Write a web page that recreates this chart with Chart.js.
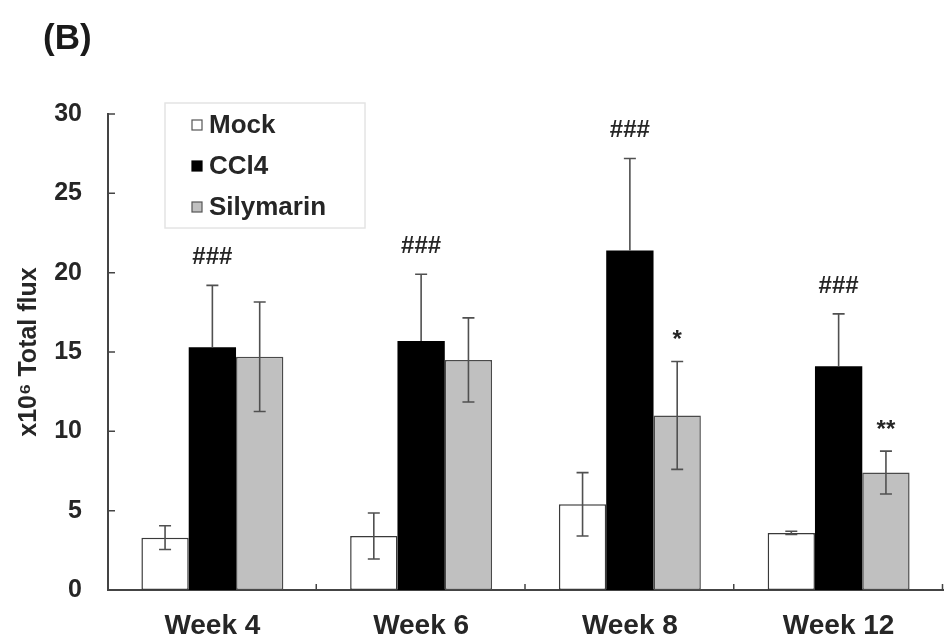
<!DOCTYPE html>
<html><head><meta charset="utf-8">
<script src="https://cdn.jsdelivr.net/npm/chart.js@4/dist/chart.umd.min.js"></script>
<style>html,body{margin:0;padding:0;background:#fff}#wrap{width:945px;height:641px}</style>
</head><body><div id="wrap"><canvas id="c" width="945" height="641"></canvas></div>
<script>
const categories = ['Week 4', 'Week 6', 'Week 8', 'Week 12'];
const seriesNames = ['Mock', 'CCl4', 'Silymarin'];
const mockValues = [3.3, 3.4, 5.4, 3.6];
const mockErrors = [0.75, 1.45, 2.0, 0.1];
const ccl4Values = [15.3, 15.7, 21.4, 14.1];
const ccl4Errors = [3.9, 4.2, 5.8, 3.3];
const silymarinValues = [14.7, 14.5, 11.0, 7.4];
const silymarinErrors = [3.45, 2.65, 3.4, 1.35];
const mockMarks = ['', '', '', ''];
const ccl4Marks = ['###', '###', '###', '###'];
const silymarinMarks = ['', '', '*', '**'];
const yTicks = [0, 5, 10, 15, 20, 25, 30];

const FONT = '"Liberation Sans", Arial, sans-serif';
const TEXT = '#262626';

const datasets = [
  {label: seriesNames[0], data: mockValues, errors: mockErrors, marks: mockMarks,
   backgroundColor: '#ffffff', borderColor: '#3a3a3a', borderWidth: 1.5, hideLowerErr: false},
  {label: seriesNames[1], data: ccl4Values, errors: ccl4Errors, marks: ccl4Marks,
   backgroundColor: '#000000', borderColor: '#000000', borderWidth: 0, hideLowerErr: true},
  {label: seriesNames[2], data: silymarinValues, errors: silymarinErrors, marks: silymarinMarks,
   backgroundColor: '#c0c0c0', borderColor: '#4a4a4a', borderWidth: 1.5, hideLowerErr: false}
].map(d => Object.assign(d, {categoryPercentage: 0.68, barPercentage: 1.0, borderSkipped: false}));

const extras = {
  id: 'extras',
  afterDatasetsDraw(chart) {
    const ctx = chart.ctx;
    const ys = chart.scales.y, xs = chart.scales.x;
    const area = chart.chartArea;
    ctx.save();
    // error bars and marks
    chart.data.datasets.forEach((ds, di) => {
      const meta = chart.getDatasetMeta(di);
      meta.data.forEach((bar, i) => {
        const v = ds.data[i], e = ds.errors[i];
        const x = bar.x;
        const yt = ys.getPixelForValue(v + e);
        const yv = ys.getPixelForValue(v);
        const yb = ys.getPixelForValue(v - e);
        ctx.strokeStyle = '#505050';
        ctx.lineWidth = 1.6;
        ctx.beginPath();
        ctx.moveTo(x, yt); ctx.lineTo(x, ds.hideLowerErr ? yv : yb);
        ctx.moveTo(x - 6, yt); ctx.lineTo(x + 6, yt);
        if (!ds.hideLowerErr) { ctx.moveTo(x - 6, yb); ctx.lineTo(x + 6, yb); }
        ctx.stroke();
        const m = ds.marks[i];
        if (m) {
          ctx.fillStyle = TEXT;
          ctx.font = 'bold 24px ' + FONT;
          ctx.textAlign = 'center';
          ctx.textBaseline = 'middle';
          const off = m.indexOf('*') >= 0 ? 21 : 28;
          ctx.fillText(m, x, yt - off);
        }
      });
    });
    // inward ticks on y axis
    ctx.strokeStyle = '#444';
    ctx.lineWidth = 1.5;
    ctx.beginPath();
    yTicks.forEach(t => {
      const y = ys.getPixelForValue(t);
      ctx.moveTo(area.left, y); ctx.lineTo(area.left + 7, y);
    });
    // inward ticks on x axis at category boundaries
    const n = categories.length;
    for (let i = 1; i <= n; i++) {
      const x = i < n ? (xs.getPixelForValue(i - 1) + xs.getPixelForValue(i)) / 2
                      : xs.getPixelForValue(n - 1) + (xs.getPixelForValue(n - 1) - xs.getPixelForValue(n - 2)) / 2;
      ctx.moveTo(x - 0.5, area.bottom); ctx.lineTo(x - 0.5, area.bottom - 6);
    }
    ctx.stroke();
    // legend box
    const lx = 165, ly = 103, lw = 200, lh = 125;
    ctx.fillStyle = '#fff';
    ctx.fillRect(lx, ly, lw, lh);
    ctx.strokeStyle = '#e4e4e4';
    ctx.lineWidth = 1.5;
    ctx.strokeRect(lx, ly, lw, lh);
    chart.data.datasets.forEach((ds, di) => {
      const cy = 125 + di * 41;
      ctx.fillStyle = ds.backgroundColor;
      ctx.fillRect(192, cy - 5, 10, 10);
      ctx.strokeStyle = di === 1 ? '#000' : '#555';
      ctx.lineWidth = 1.2;
      ctx.strokeRect(192, cy - 5, 10, 10);
      ctx.fillStyle = TEXT;
      ctx.font = 'bold 26px ' + FONT;
      ctx.textAlign = 'left';
      ctx.textBaseline = 'middle';
      ctx.fillText(ds.label, 209, cy + 1);
    });
    // panel label
    ctx.fillStyle = '#1a1a1a';
    ctx.font = 'bold 35px ' + FONT;
    ctx.textAlign = 'left';
    ctx.textBaseline = 'middle';
    ctx.fillText('(B)', 43, 39);
    ctx.restore();
  }
};

new Chart(document.getElementById('c'), {
  type: 'bar',
  data: {labels: categories, datasets},
  options: {
    responsive: false,
    animation: false,
    devicePixelRatio: 1,
    layout: {padding: {left: 10, right: 2, top: 114, bottom: 0}},
    plugins: {legend: {display: false}, tooltip: {enabled: false}},
    scales: {
      x: {
        afterFit: s => { s.height = 51; },
        grid: {display: false, drawTicks: false},
        border: {display: true, color: '#444', width: 2},
        ticks: {color: TEXT, font: {family: FONT, size: 28, weight: 'bold'}, padding: 19}
      },
      y: {
        min: 0, max: 30,
        afterBuildTicks: s => { s.ticks = yTicks.map(v => ({value: v})); },
        afterFit: s => { s.width = 98; },
        grid: {display: false, drawTicks: false},
        border: {display: true, color: '#444', width: 2},
        ticks: {color: TEXT, font: {family: FONT, size: 25, weight: 'bold'}, padding: 26},
        title: {display: true, text: 'x10⁶ Total flux', color: TEXT,
                font: {family: FONT, size: 25, weight: 'bold'}, padding: {top: 4, bottom: 0}}
      }
    }
  },
  plugins: [extras]
});
</script></body></html>
